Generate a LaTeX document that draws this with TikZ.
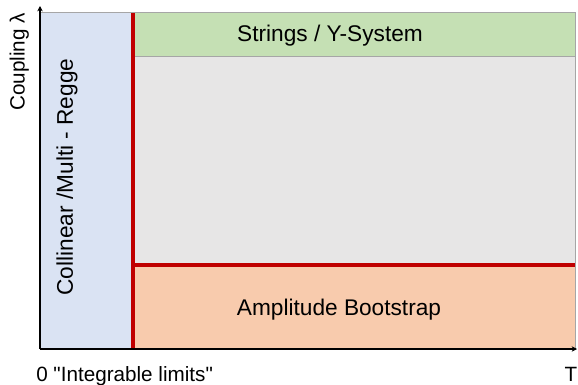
\documentclass[tikz,border=0pt]{standalone}
\usepackage{fontspec}
\setmainfont{Liberation Sans}
\usetikzlibrary{positioning, arrows.meta}
\definecolor{collCol}{HTML}{DAE3F3}
\definecolor{stringCol}{HTML}{C5E0B4}
\definecolor{midCol}{HTML}{E7E6E6}
\definecolor{bootCol}{HTML}{F8CBAD}
\definecolor{edgeCol}{HTML}{A6A6A6}
\definecolor{limitCol}{HTML}{C00000}

\begin{document}
\begin{tikzpicture}[x=0.75pt, y=-0.75pt,
    every node/.style={font=\fontsize{15.5}{18}\selectfont, inner sep=0pt},
    regionlabel/.style={font=\fontsize{17}{20}\selectfont},
    region/.style={draw=edgeCol, line width=0.6pt},
    limit/.style={draw=limitCol, line width=2.7pt},
    axis/.style={draw=black, line width=1.2pt, -{Stealth[length=4pt, width=4pt]}}]
  \useasboundingbox (0,0) rectangle (578,385);
  % regions
  \filldraw[region, fill=collCol] (40,12) rectangle (133,349);
  \filldraw[region, fill=stringCol] (133,12) rectangle (575,56);
  \filldraw[region, fill=midCol] (133,56) rectangle (575,265);
  \filldraw[region, fill=bootCol] (133,265) rectangle (575,349);
  % limits
  \coordinate (cTop) at (133,13);
  \coordinate (cBot) at (133,349);
  \coordinate (cMid) at (133,265);
  \coordinate (cEnd) at (575,265);
  \draw[limit] (cTop) -- (cBot);
  \draw[limit] (cMid) -- (cEnd);
  % axes
  \coordinate (origin) at (40,349);
  \coordinate (yEnd) at (40,6);
  \coordinate (xEnd) at (577,349);
  \draw[axis] (origin) -- (yEnd);
  \draw[axis] (origin) -- (xEnd);
  % labels
  \node[regionlabel] (strings) at (330,35.5) {Strings / Y-System};
  \node[regionlabel] (bootstrap) at (339,310) {Amplitude Bootstrap};
  \node[regionlabel, rotate=90] (collinear) at (67,177) {Collinear /Multi - Regge};
  \node[rotate=90, anchor=base] (coupling) at (24.5,62) {Coupling λ};
  \node[anchor=base west] (zero) at (36,381) {0 \textquotedbl Integrable limits\textquotedbl};
  \node[anchor=base] (tee) at (571,381) {T};
\end{tikzpicture}
\end{document}
